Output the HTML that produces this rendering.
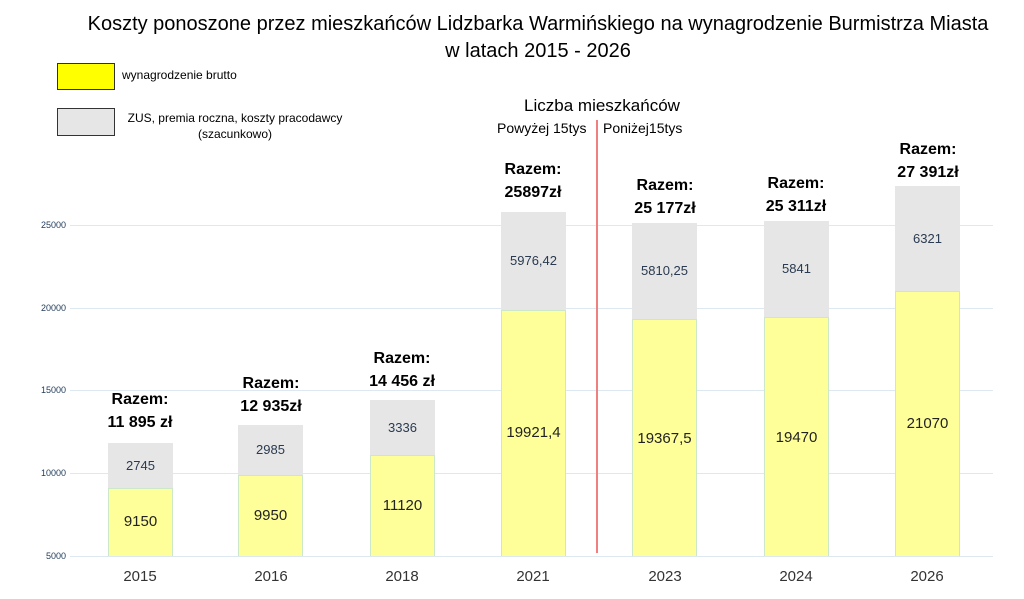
<!DOCTYPE html>
<html><head><meta charset="utf-8"><style>
body{margin:0;width:1024px;height:599px;background:#fff;position:relative;overflow:hidden;font-family:"Liberation Sans",sans-serif}
div{position:absolute}
.t{left:0;width:1024px;text-align:center;font-size:20px;color:#000}
.g{left:70px;width:923px;height:1px;background:#dde8f0}
.yl{left:18px;width:48px;text-align:right;font-size:9px;color:#1f3a5a}
.bar{width:65px}
.gr{background:#e6e6e6}
.ye{background:#ffff99;border:1px solid #cde8c8;box-sizing:border-box;border-bottom:none}
.v{width:65px;text-align:center;font-size:15px;color:#222}
.vg{width:65px;text-align:center;font-size:13px;color:#2a3a50}
.rz{width:140px;text-align:center;font-weight:bold;font-size:16px;line-height:23px;color:#000}
.x{width:80px;text-align:center;font-size:15px;color:#333;top:568px}
</style></head><body>
<div class="t" style="top:13px;left:26px">Koszty ponoszone przez mieszkańców Lidzbarka Warmińskiego na wynagrodzenie Burmistrza Miasta</div>
<div class="t" style="top:40px;left:26px">w latach 2015 - 2026</div>
<div style="left:57px;top:63px;width:56px;height:25px;background:#ffff00;border:1px solid #333"></div>
<div style="left:122px;top:68px;font-size:12px">wynagrodzenie brutto</div>
<div style="left:57px;top:108px;width:56px;height:26px;background:#e6e6e6;border:1px solid #333"></div>
<div style="left:120px;top:110px;width:230px;text-align:center;font-size:12px;line-height:16px">ZUS, premia roczna, koszty pracodawcy<br>(szacunkowo)</div>
<div class="g" style="top:225px"></div><div class="g" style="top:308px"></div><div class="g" style="top:390px"></div><div class="g" style="top:473px"></div><div class="g" style="top:556px"></div>
<div class="yl" style="top:220px">25000</div><div class="yl" style="top:303px">20000</div><div class="yl" style="top:385px">15000</div><div class="yl" style="top:468px">10000</div><div class="yl" style="top:551px">5000</div>
<div style="left:596px;top:120px;width:2px;height:433px;background:#f08080"></div>
<div style="left:490px;top:96px;width:224px;text-align:center;font-size:17px">Liczba mieszkańców</div>
<div style="left:497px;top:120px;font-size:14px">Powyżej 15tys</div>
<div style="left:603px;top:120px;font-size:14px">Poniżej15tys</div>

<div class="bar gr" style="left:108px;top:443px;height:45px"></div><div class="bar ye" style="left:108px;top:488px;height:68px"></div>
<div class="vg" style="left:108px;top:458px">2745</div><div class="v" style="left:108px;top:513px">9150</div>
<div class="rz" style="left:70px;top:388px">Razem:<br>11 895 zł</div><div class="x" style="left:100px">2015</div>

<div class="bar gr" style="left:238px;top:425px;height:50px"></div><div class="bar ye" style="left:238px;top:475px;height:81px"></div>
<div class="vg" style="left:238px;top:442px">2985</div><div class="v" style="left:238px;top:507px">9950</div>
<div class="rz" style="left:201px;top:372px">Razem:<br>12 935zł</div><div class="x" style="left:231px">2016</div>

<div class="bar gr" style="left:370px;top:400px;height:55px"></div><div class="bar ye" style="left:370px;top:455px;height:101px"></div>
<div class="vg" style="left:370px;top:420px">3336</div><div class="v" style="left:370px;top:497px">11120</div>
<div class="rz" style="left:332px;top:347px">Razem:<br>14 456 zł</div><div class="x" style="left:362px">2018</div>

<div class="bar gr" style="left:501px;top:212px;height:99px"></div><div class="bar ye" style="left:501px;top:310px;height:246px"></div>
<div class="vg" style="left:501px;top:253px">5976,42</div><div class="v" style="left:501px;top:424px">19921,4</div>
<div class="rz" style="left:463px;top:158px">Razem:<br>25897zł</div><div class="x" style="left:493px">2021</div>

<div class="bar gr" style="left:632px;top:223px;height:96px"></div><div class="bar ye" style="left:632px;top:319px;height:237px"></div>
<div class="vg" style="left:632px;top:263px">5810,25</div><div class="v" style="left:632px;top:430px">19367,5</div>
<div class="rz" style="left:595px;top:174px">Razem:<br>25 177zł</div><div class="x" style="left:625px">2023</div>

<div class="bar gr" style="left:764px;top:221px;height:97px"></div><div class="bar ye" style="left:764px;top:317px;height:239px"></div>
<div class="vg" style="left:764px;top:261px">5841</div><div class="v" style="left:764px;top:429px">19470</div>
<div class="rz" style="left:726px;top:172px">Razem:<br>25 311zł</div><div class="x" style="left:756px">2024</div>

<div class="bar gr" style="left:895px;top:186px;height:105px"></div><div class="bar ye" style="left:895px;top:291px;height:265px"></div>
<div class="vg" style="left:895px;top:231px">6321</div><div class="v" style="left:895px;top:415px">21070</div>
<div class="rz" style="left:858px;top:138px">Razem:<br>27 391zł</div><div class="x" style="left:887px">2026</div>
</body></html>
